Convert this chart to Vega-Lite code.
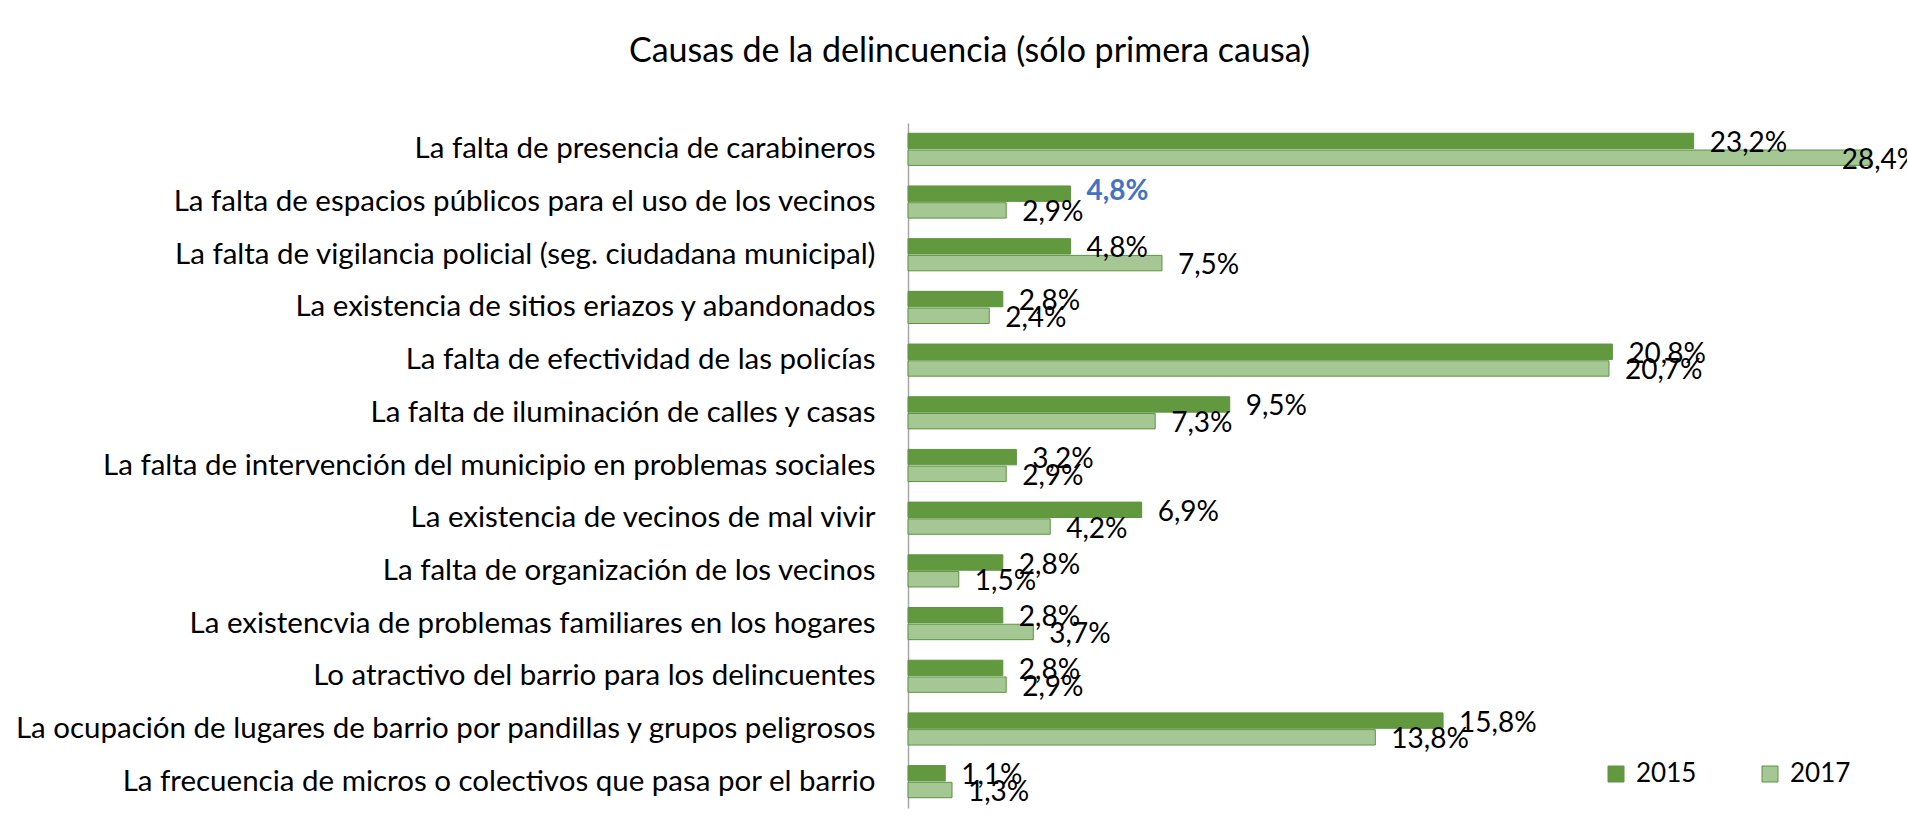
{
  "$schema": "https://vega.github.io/schema/vega-lite/v6.json",
  "autosize": {"type": "none"},
  "width": 999,
  "height": 685,
  "padding": {"left": 908, "top": 123, "right": 0, "bottom": 18},
  "background": "white",
  "config": {
    "locale": {"number": {"decimal": ",", "thousands": ".", "grouping": [3], "currency": ["", " €"]}},
    "view": {"stroke": null},
    "font": "Lato"
  },
  "title": {
    "text": "Causas de la delincuencia (sólo primera causa)",
    "font": "Lato",
    "fontSize": 34,
    "fontWeight": "normal",
    "color": "#000000",
    "anchor": "middle",
    "frame": "group",
    "dx": -438,
    "offset": 54
  },
  "data": {
    "values": [
      {"cause": "La falta de presencia de carabineros", "year": "2015", "value": 0.232},
      {"cause": "La falta de presencia de carabineros", "year": "2017", "value": 0.284},
      {"cause": "La falta de espacios públicos para el uso de los vecinos", "year": "2015", "value": 0.048},
      {"cause": "La falta de espacios públicos para el uso de los vecinos", "year": "2017", "value": 0.029},
      {"cause": "La falta de vigilancia policial (seg. ciudadana municipal)", "year": "2015", "value": 0.048},
      {"cause": "La falta de vigilancia policial (seg. ciudadana municipal)", "year": "2017", "value": 0.075},
      {"cause": "La existencia de sitios eriazos y abandonados", "year": "2015", "value": 0.028},
      {"cause": "La existencia de sitios eriazos y abandonados", "year": "2017", "value": 0.024},
      {"cause": "La falta de efectividad de las policías", "year": "2015", "value": 0.208},
      {"cause": "La falta de efectividad de las policías", "year": "2017", "value": 0.207},
      {"cause": "La falta de iluminación de calles y casas", "year": "2015", "value": 0.095},
      {"cause": "La falta de iluminación de calles y casas", "year": "2017", "value": 0.073},
      {"cause": "La falta de intervención del municipio en problemas sociales", "year": "2015", "value": 0.032},
      {"cause": "La falta de intervención del municipio en problemas sociales", "year": "2017", "value": 0.029},
      {"cause": "La existencia de vecinos de mal vivir", "year": "2015", "value": 0.069},
      {"cause": "La existencia de vecinos de mal vivir", "year": "2017", "value": 0.042},
      {"cause": "La falta de organización de los vecinos", "year": "2015", "value": 0.028},
      {"cause": "La falta de organización de los vecinos", "year": "2017", "value": 0.015},
      {"cause": "La existencvia de problemas familiares en los hogares", "year": "2015", "value": 0.028},
      {"cause": "La existencvia de problemas familiares en los hogares", "year": "2017", "value": 0.037},
      {"cause": "Lo atractivo del barrio para los delincuentes", "year": "2015", "value": 0.028},
      {"cause": "Lo atractivo del barrio para los delincuentes", "year": "2017", "value": 0.029},
      {"cause": "La ocupación de lugares de barrio por pandillas y grupos peligrosos", "year": "2015", "value": 0.158},
      {"cause": "La ocupación de lugares de barrio por pandillas y grupos peligrosos", "year": "2017", "value": 0.138},
      {"cause": "La frecuencia de micros o colectivos que pasa por el barrio", "year": "2015", "value": 0.011},
      {"cause": "La frecuencia de micros o colectivos que pasa por el barrio", "year": "2017", "value": 0.013}
    ]
  },
  "encoding": {
    "y": {
      "field": "cause",
      "type": "nominal",
      "sort": null,
      "scale": {"paddingInner": 0.39, "paddingOuter": 0.195},
      "axis": {
        "title": null,
        "domain": true,
        "domainColor": "#A6A6A6",
        "domainWidth": 1.5,
        "ticks": false,
        "grid": false,
        "labelFont": "Lato",
        "labelFontSize": 29.5,
        "labelColor": "#000000",
        "labelPadding": 33,
        "labelLimit": 1000
      }
    },
    "yOffset": {"field": "year", "type": "nominal", "scale": {"paddingInner": 0.08}},
    "x": {"field": "value", "type": "quantitative", "scale": {"domain": [0, 0.295]}, "axis": null}
  },
  "layer": [
    {
      "mark": {"type": "bar", "stroke": "#5E9440", "strokeWidth": 1},
      "encoding": {
        "color": {
          "field": "year",
          "type": "nominal",
          "scale": {"domain": ["2015", "2017"], "range": ["#62993E", "#A5C794"]},
          "legend": {
            "orient": "none",
            "legendX": 695,
            "legendY": 638,
            "direction": "horizontal",
            "title": null,
            "symbolType": "square",
            "symbolSize": 256,
            "symbolStrokeColor": "#5E9440",
            "symbolStrokeWidth": 1,
            "labelFont": "Lato",
            "labelFontSize": 26,
            "labelColor": "#000000",
            "labelOffset": 7,
            "columnPadding": 60,
            "padding": 0
          }
        }
      }
    },
    {
      "transform": [{"filter": "!(datum.year === '2015' && datum.cause === 'La falta de espacios públicos para el uso de los vecinos') && datum.value < 0.25"}],
      "mark": {"type": "text", "align": "left", "baseline": "middle", "dx": 16, "dy": 3, "font": "Lato", "fontSize": 28, "color": "#000000"},
      "encoding": {"text": {"field": "value", "type": "quantitative", "format": ".1%"}}
    },
    {
      "transform": [{"filter": "datum.value >= 0.25"}],
      "mark": {"type": "text", "align": "left", "baseline": "middle", "dx": -28, "dy": 3, "font": "Lato", "fontSize": 28, "color": "#000000"},
      "encoding": {"text": {"field": "value", "type": "quantitative", "format": ".1%"}}
    },
    {
      "transform": [{"filter": "datum.year === '2015' && datum.cause === 'La falta de espacios públicos para el uso de los vecinos'"}],
      "mark": {"type": "text", "align": "left", "baseline": "middle", "dx": 16, "dy": -2, "font": "Lato", "fontSize": 28, "fontWeight": "bold", "color": "#4472C4"},
      "encoding": {"text": {"field": "value", "type": "quantitative", "format": ".1%"}}
    }
  ]
}
